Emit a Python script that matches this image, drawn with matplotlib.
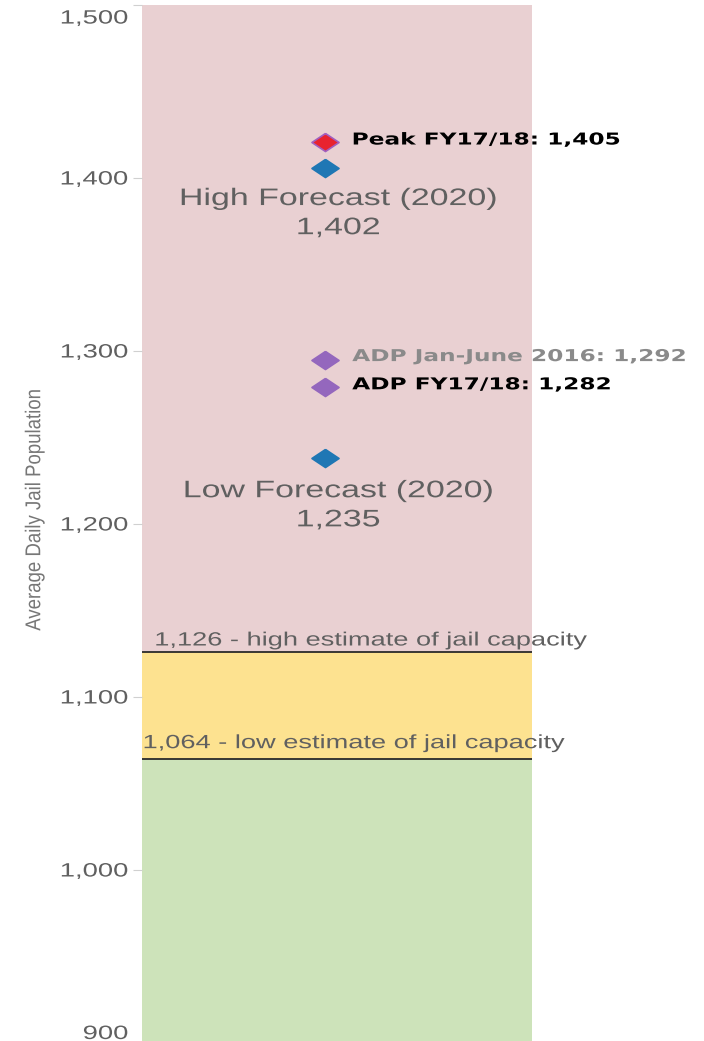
import matplotlib
matplotlib.use("Agg")
import matplotlib.pyplot as plt
from matplotlib.patheffects import AbstractPathEffect
from matplotlib.transforms import Affine2D, ScaledTranslation
from matplotlib.ticker import FuncFormatter

# values
labels   = ['Peak FY17/18', 'High Forecast (2020)', 'ADP Jan-June 2016', 'ADP FY17/18', 'Low Forecast (2020)']
values   = [1405, 1402, 1292, 1282, 1235]       # numbers printed in the labels
marker_y = [1421, 1406, 1295, 1279, 1238]       # where the diamonds sit
colors   = ['#e8232f', '#1f77b4', '#9467bd', '#9467bd', '#1f77b4']
edges    = ['#a160c0', '#1f77b4', '#9467bd', '#9467bd', '#1f77b4']
cap_low  = 1064
cap_high = 1126
y_min, y_max = 900, 1500
yticks   = [900, 1000, 1100, 1200, 1300, 1400, 1500]


class Widen(AbstractPathEffect):
    # the source screenshot is stretched sideways, so widen the glyphs the same way
    def __init__(self, sx=1.42, anchor='center'):
        super().__init__()
        self.sx = sx
        self.anchor = anchor

    def draw_path(self, renderer, gc, tpath, affine, rgbFace=None):
        ext = tpath.get_extents(affine)
        x0 = {'left': ext.x0, 'center': 0.5*(ext.x0 + ext.x1), 'right': ext.x1}[self.anchor]
        t = affine + Affine2D().translate(-x0, 0).scale(self.sx, 1).translate(x0, 0)
        renderer.draw_path(gc, tpath, t, rgbFace)


gray   = '#606060'
arial  = 'Liberation Sans'
bold   = 'DejaVu Sans'
SX     = 1.42

fig = plt.figure(figsize=(7.04, 10.41), dpi=100)
ax = fig.add_axes([142/704, -2/1041, 390/704, 1038/1041])
ax.set_xlim(0, 1)
ax.set_ylim(y_min, y_max)

ax.axhspan(y_min, cap_low, color='#cde3ba', lw=0)
ax.axhspan(cap_low, cap_high, color='#fde290', lw=0)
ax.axhspan(cap_high, y_max, color='#e9d0d2', lw=0)
ax.axhline(cap_high, color='#2b2b2b', lw=1.3)
ax.axhline(cap_low, color='#2b2b2b', lw=1.3)

for s in ax.spines.values():
    s.set_visible(False)
ax.set_xticks([])
ax.set_yticks(yticks)
ax.yaxis.set_major_formatter(FuncFormatter(lambda v, p: f'{int(v):,}'))
ax.tick_params(axis='y', length=6.5, width=0.8, color='#d0d0d0', pad=3.6,
               labelsize=13.9, labelcolor=gray)
for t in ax.yaxis.get_major_ticks():
    t.label1.set_fontfamily(arial)
    t.label1.set_path_effects([Widen(SX, 'right')])
ticks = ax.yaxis.get_major_ticks()
ticks[0].label1.set_va('bottom')
ticks[-1].label1.set_va('top')
top_lbl = ticks[-1].label1
top_lbl.set_transform(top_lbl.get_transform() + ScaledTranslation(0, -4/72, fig.dpi_scale_trans))

diamond = [(0, 1), (1.5, 0), (0, -1), (-1.5, 0), (0, 1)]
mx = 0.47
for y, c, e in zip(marker_y, colors, edges):
    ax.plot([mx], [y], marker=diamond, markersize=19.5, color=c,
            markeredgecolor=e, markeredgewidth=1.2, linestyle='none')

# bold labels to the right of the diamonds
bold_idx = [0, 2, 3]
bold_col = ['black', '#8a8a8a', 'black']
bold_dy  = [1.2, 2.2, 1.8]
for i, c, dy in zip(bold_idx, bold_col, bold_dy):
    ax.annotate(f'{labels[i]}: {values[i]:,}', (mx, marker_y[i]), xytext=(19.4, dy),
                textcoords='offset points', ha='left', va='center',
                fontsize=11.8, fontweight='bold', family=bold, color=c,
                path_effects=[Widen(SX, 'left')])

# forecast labels under the blue diamonds
for i, dy in zip([1, 4], [-14.7, -15.8]):
    ax.annotate(f'{labels[i]}\n{values[i]:,}', (mx, marker_y[i]), xytext=(9.4, dy),
                textcoords='offset points', ha='center', va='top', linespacing=1.42,
                fontsize=17.2, family=arial, color=gray,
                path_effects=[Widen(SX, 'center')])

# capacity labels
ax.annotate(f'{cap_high:,} - high estimate of jail capacity', (0.033, cap_high),
            xytext=(0, 4.7), textcoords='offset points', ha='left', va='baseline',
            fontsize=13.8, family=arial, color=gray, path_effects=[Widen(SX, 'left')])
ax.annotate(f'{cap_low:,} - low estimate of jail capacity', (0.003, cap_low),
            xytext=(0, 8), textcoords='offset points', ha='left', va='baseline',
            fontsize=13.8, family=arial, color=gray, path_effects=[Widen(SX, 'left')])

fig.text(35/704, 1 - 510/1041, 'Average Daily Jail Population', rotation=90,
         ha='center', va='center', fontsize=13.4, family=arial, color='#777777',
         path_effects=[Widen(1.15, 'center')])

fig.savefig('out.png', dpi=100)
